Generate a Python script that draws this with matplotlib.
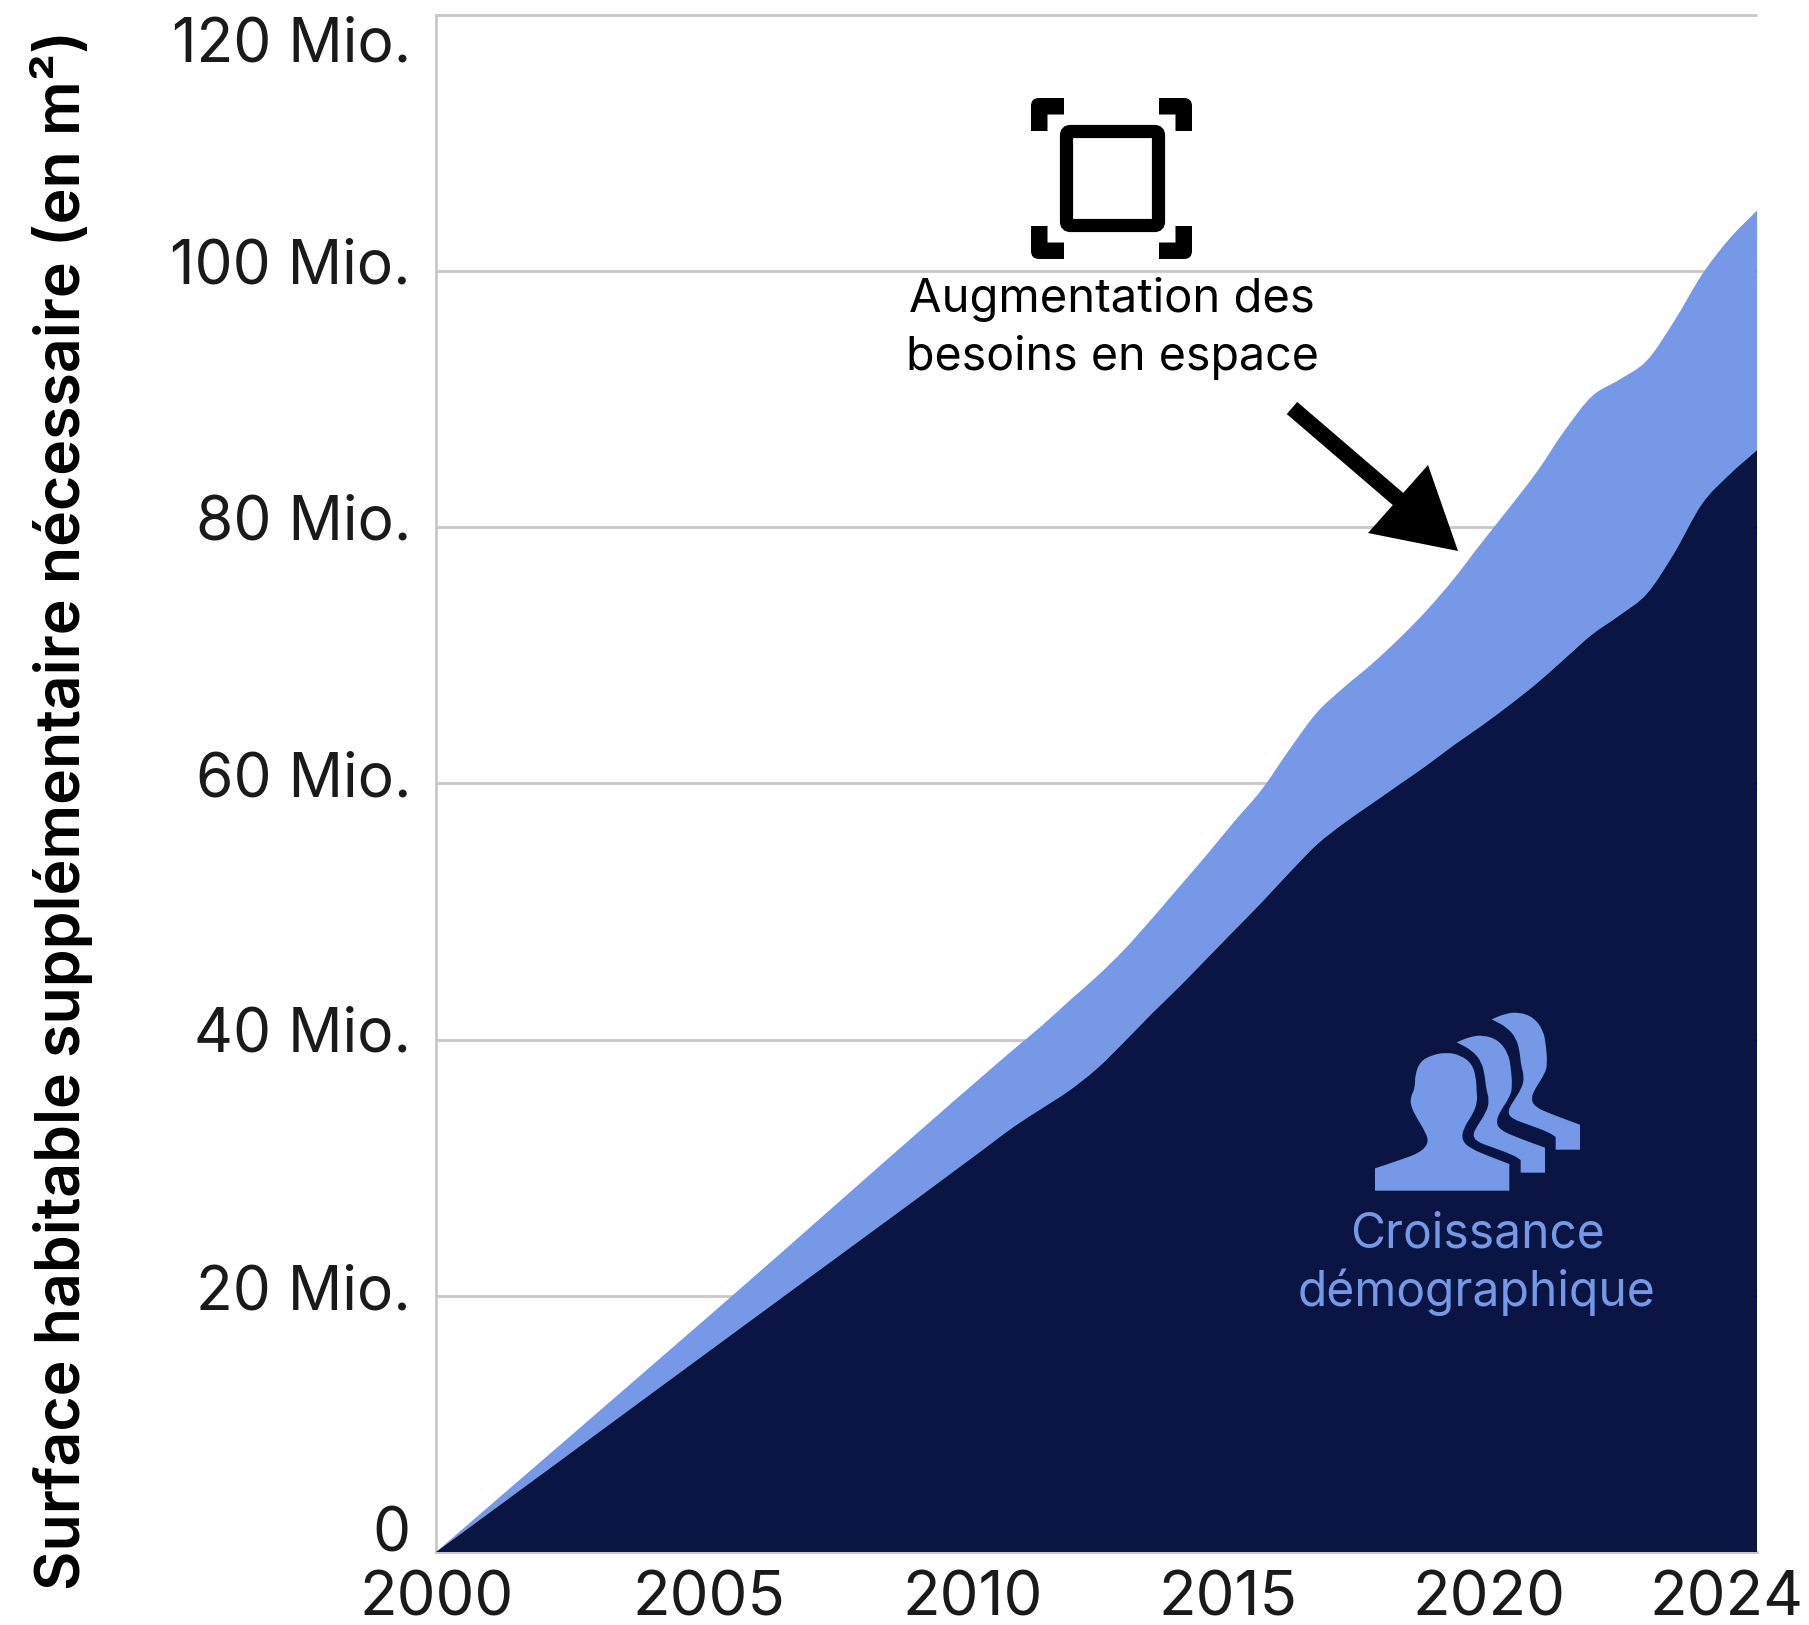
import matplotlib
matplotlib.use("Agg")
import matplotlib.pyplot as plt
import numpy as np
from matplotlib.patches import Polygon, FancyBboxPatch, PathPatch
from matplotlib.path import Path
from matplotlib.transforms import Affine2D, ScaledTranslation

W, H = 1809, 1625
FONT = ['Inter', 'Lato', 'DejaVu Sans']
plt.rcParams['font.family'] = FONT

# ---- data (Mio. m2)
years = [2000, 2005, 2010, 2010.5, 2011, 2011.5, 2012, 2012.5, 2013, 2013.5, 2014, 2014.5,
         2015, 2015.5, 2016, 2016.5, 2017, 2017.5, 2018, 2018.5, 2019, 2019.5, 2020, 2020.5,
         2021, 2021.5, 2022, 2022.5, 2023, 2023.5, 2024]
total_need = [0, 18.57, 37.4, 39.25, 41.05, 43.0, 44.9, 47.0, 49.4, 51.9, 54.4, 57.0,
              59.5, 62.6, 65.5, 67.5, 69.3, 71.3, 73.5, 76.0, 78.8, 81.5, 84.3, 87.5,
              90.2, 91.5, 93.0, 96.1, 99.7, 102.5, 104.7]
population_need = [0, 15.8, 31.6, 33.2, 34.6, 36.0, 37.7, 39.8, 42.0, 44.1, 46.3, 48.5,
                   50.7, 53.0, 55.2, 56.9, 58.4, 59.9, 61.4, 63.0, 64.5, 66.1, 67.8, 69.7,
                   71.6, 73.1, 74.8, 78.0, 81.8, 84.1, 86.0]
y_ticks = [0, 20, 40, 60, 80, 100, 120]
y_labels = ['0', '20 Mio.', '40 Mio.', '60 Mio.', '80 Mio.', '100 Mio.', '120 Mio.']
x_ticks = [2000, 2005, 2010, 2015, 2020, 2024]
x_labels = ['2000', '2005', '2010', '2015', '2020', '2024']
# label offsets in pixels, as the labels are hand-placed in the reference
y_label_dy = [23, 9, 10, 9, 10, 10, -25]
x_label_dx = [1, -2, -14, -34, -48, -31]

BLUE = '#7599E6'
NAVY = '#0A1543'
GRID = '#C8C8C8'
TXT = '#1A1A1A'


def curve_path(x, y, base_x=None, base_y=None):
    """Smooth path through (x, y); closed along the base curve, or down to y = 0."""
    x = np.asarray(x, float)
    y = np.asarray(y, float)

    def segs(xs, ys):
        m = np.gradient(ys, xs)
        out = []
        for i in range(len(xs) - 1):
            d = (xs[i + 1] - xs[i]) / 3
            out += [(xs[i] + d, ys[i] + m[i] * d), (xs[i + 1] - d, ys[i + 1] - m[i + 1] * d),
                    (xs[i + 1], ys[i + 1])]
        return out

    verts = [(x[0], y[0])] + segs(x, y)
    codes = [Path.MOVETO] + [Path.CURVE4] * (len(verts) - 1)
    if base_x is None:
        verts += [(x[-1], 0), (x[0], 0), (x[0], y[0])]
        codes += [Path.LINETO, Path.LINETO, Path.CLOSEPOLY]
    else:
        bx = np.asarray(base_x, float)[::-1]
        by = np.asarray(base_y, float)[::-1]
        verts += [(bx[0], by[0])]
        codes += [Path.LINETO]
        m = np.gradient(by, bx)
        for i in range(len(bx) - 1):
            d = (bx[i + 1] - bx[i]) / 3
            verts += [(bx[i] + d, by[i] + m[i] * d), (bx[i + 1] - d, by[i + 1] - m[i + 1] * d),
                      (bx[i + 1], by[i + 1])]
            codes += [Path.CURVE4] * 3
        verts += [(x[0], y[0])]
        codes += [Path.CLOSEPOLY]
    return Path(verts, codes)


fig = plt.figure(figsize=(W / 100, H / 100), dpi=100, facecolor='white')
ax = fig.add_axes([436 / W, 1 - 1552 / H, (1757 - 436) / W, (1552 - 14.5) / H])
ax.set_xlim(2000, 2024)
ax.set_ylim(0, 120)

ax.add_patch(PathPatch(curve_path(years, total_need, years, population_need), fc=BLUE, ec='none', zorder=2))
ax.add_patch(PathPatch(curve_path(years, population_need), fc=NAVY, ec='none', zorder=3))

ax.set_yticks(y_ticks, y_labels)
ax.set_xticks(x_ticks, x_labels)
ax.yaxis.grid(True, color=GRID, lw=2.0, zorder=1, clip_on=False, solid_capstyle='butt')
ax.set_axisbelow(True)
ax.tick_params(axis='y', length=0, labelsize=43.5, labelcolor=TXT, pad=18)
ax.tick_params(axis='x', length=0, labelsize=44.5, labelcolor=TXT, pad=13)
for s in ['top', 'right']:
    ax.spines[s].set_visible(False)
for s in ['left', 'bottom']:
    ax.spines[s].set_color(GRID)
    ax.spines[s].set_linewidth(2.0)

for tick, dy in zip(ax.yaxis.get_major_ticks(), y_label_dy):
    lab = tick.label1
    lab.set_transform(lab.get_transform() + ScaledTranslation(0, dy / 100, fig.dpi_scale_trans))
for tick, dx in zip(ax.xaxis.get_major_ticks(), x_label_dx):
    lab = tick.label1
    lab.set_transform(lab.get_transform() + ScaledTranslation(dx / 100, 0, fig.dpi_scale_trans))

fig.text(62 / W, 1 - 810 / H, 'Surface habitable supplémentaire nécessaire (en m²)',
         rotation=90, ha='center', va='center', fontsize=43.7, fontweight='semibold', color='black')

# pixel-space overlay (y down)
px = Affine2D().scale(1, -1).translate(0, H)

fig.text(1112 / W, 1 - 299 / H, 'Augmentation des', ha='center', va='center', fontsize=34, color='black')
fig.text(1112 / W, 1 - 357 / H, 'besoins en espace', ha='center', va='center', fontsize=33.5, color='black')
ax.text(1477 / W, 1 - 1234 / H, 'Croissance', transform=fig.transFigure, ha='center', va='center',
        fontsize=34.5, color=BLUE, zorder=6)
ax.text(1477 / W, 1 - 1292 / H, 'démographique', transform=fig.transFigure, ha='center', va='center',
        fontsize=34.5, color=BLUE, zorder=6)

# arrow
tail = np.array([1292.0, 408.0])
neck = np.array([1398.0, 499.0])
tip = np.array([1458.0, 551.0])
head1 = np.array([1428.0, 465.0])
head2 = np.array([1368.0, 533.0])
n = np.array([0.652, -0.758]) * 8
arrow = [tail + n, neck + n, head1, tip, head2, neck - n, tail - n]
fig.add_artist(Polygon(arrow, closed=True, fc='black', ec='none', transform=px))

# frame icon
x0, x1, y0, y1 = 1031, 1192, 98, 259
arm, th, r = 33, 16.5, 8
for (cx, cy, sx, sy) in [(x0, y0, 1, 1), (x1, y0, -1, 1), (x0, y1, 1, -1), (x1, y1, -1, -1)]:
    pts = [(0, arm), (0, r), (0, 0), (r, 0), (arm, 0), (arm, th), (th, th), (th, arm), (0, arm)]
    codes = [Path.MOVETO, Path.LINETO, Path.CURVE3, Path.CURVE3, Path.LINETO, Path.LINETO,
             Path.LINETO, Path.LINETO, Path.CLOSEPOLY]
    verts = [(cx + sx * a, cy + sy * b) for a, b in pts]
    fig.add_artist(PathPatch(Path(verts, codes), fc='black', ec='none', transform=px))
fig.add_artist(FancyBboxPatch((1066.5, 131.5), 92, 94, boxstyle='round,pad=0,rounding_size=4',
                              fc='none', ec='black', lw=9.5, transform=px))

# people icon (outline in reference crop coordinates; repeated points are sharp corners)
front = [(375, 632), (375, 632), (375, 565), (375, 565), (450, 540), (510, 518), (535, 490), (530, 462),
         (495, 405), (482, 375), (482, 350), (495, 325), (495, 285), (510, 245), (545, 225), (590, 217),
         (630, 225), (665, 250), (678, 290), (680, 335), (682, 365), (670, 400), (640, 445), (635, 480),
         (660, 505), (720, 530), (778, 552), (778, 552), (778, 632), (778, 632)]
back = [(620, 187), (620, 187), (660, 170), (700, 165), (745, 180), (775, 220), (783, 265), (787, 320),
        (780, 350), (750, 395), (738, 425), (750, 450), (800, 472), (885, 503), (885, 503), (885, 578),
        (885, 578), (812, 578), (812, 578), (812, 540), (812, 540), (790, 525), (730, 503), (680, 485),
        (668, 465), (680, 440), (710, 395), (718, 360), (708, 325), (705, 290), (695, 245), (665, 210)]


def crop_path(pts, dx=0, dy=0):
    p = np.array([(1250 + (a + dx) / 3, 980 + (b + dy) / 3) for a, b in pts])
    mid = (p + np.roll(p, -1, axis=0)) / 2
    verts = [mid[-1]]
    codes = [Path.MOVETO]
    for i in range(len(p)):
        verts += [p[i], mid[i]]
        codes += [Path.CURVE3, Path.CURVE3]
    verts.append(mid[-1])
    codes.append(Path.CLOSEPOLY)
    return Path(verts, codes)


for path in [crop_path(front), crop_path(back), crop_path(back, 105, -69)]:
    fig.add_artist(PathPatch(path, fc=BLUE, ec='none', transform=px))

fig.savefig('out.png', dpi=100, facecolor='white')
